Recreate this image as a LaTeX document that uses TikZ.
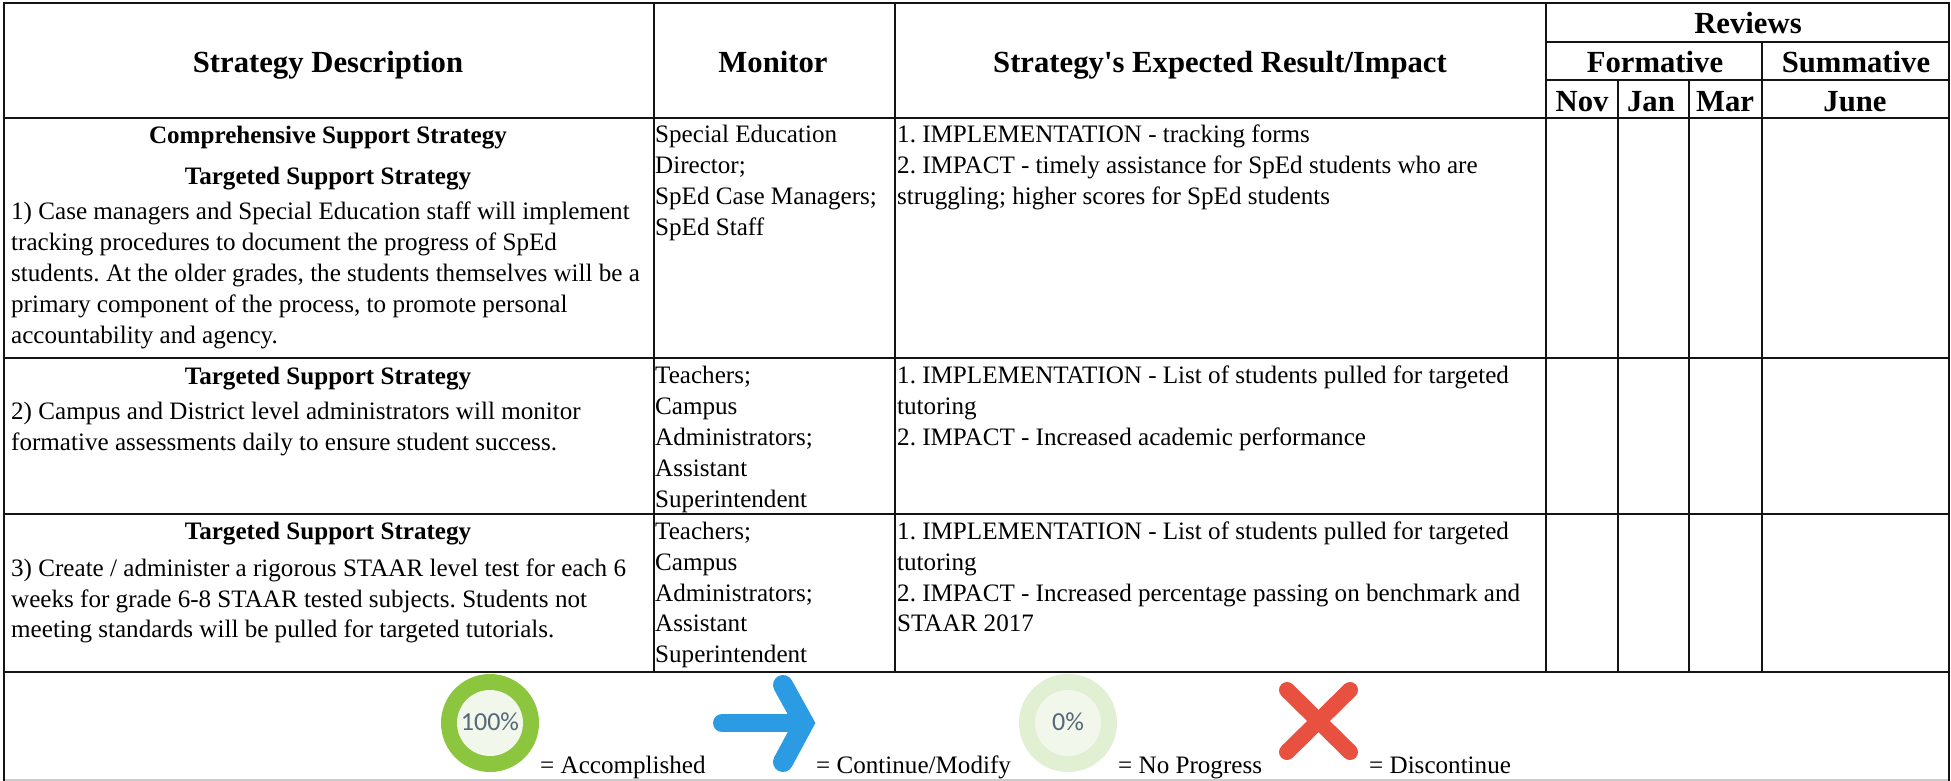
\documentclass[tikz,border=0pt]{standalone}
\usepackage{fontspec}
\setmainfont{Liberation Serif}[Ligatures=TeXOff]
\newfontfamily\iconfont{Carlito}
\tikzset{
 grid/.style={line width=2.6pt,black!92},
 body/.style={inner sep=0pt,font=\frenchspacing\fontsize{25.1}{31}\selectfont,align=left,anchor=north west},
 bodytight/.style={inner sep=0pt,font=\frenchspacing\fontsize{25.1}{30.7}\selectfont,align=left,anchor=north west},
 boldline/.style={inner sep=0pt,font=\bfseries\fontsize{25.1}{31}\selectfont,anchor=base},
 head/.style={inner sep=0pt,font=\bfseries\fontsize{30.7}{36}\selectfont,anchor=base},
 legend/.style={inner sep=0pt,font=\fontsize{25.1}{31}\selectfont,anchor=base west},
 percent/.style={inner sep=0pt,font=\iconfont\fontsize{26}{30}\selectfont,text=percentgray},
}
\definecolor{ringgreen}{HTML}{8CC63F}
\definecolor{palegreen}{HTML}{E1F0D2}
\definecolor{innergreen}{HTML}{F1F7EA}
\definecolor{arrowblue}{HTML}{2B9CE3}
\definecolor{xred}{HTML}{E8503F}
\definecolor{percentgray}{HTML}{56677A}
\begin{document}
\begin{tikzpicture}[x=1pt,y=-1pt]
\useasboundingbox (0,0) rectangle (1951,781);
\fill[white] (0,0) rectangle (1951,781);
% grid
\draw[black!20,line width=1.5pt] (4,780) -- (1949,780);
\draw[grid] (3,3) -- (1950,3);
\draw[grid] (4,118) -- (1949,118);
\draw[grid] (4,358) -- (1949,358);
\draw[grid] (4,514) -- (1949,514);
\draw[grid] (4,672) -- (1949,672);
\draw[grid] (1546,42) -- (1949,42);
\draw[grid] (1546,80) -- (1949,80);
\draw[grid] (4,3) -- (4,781);
\draw[grid] (1949,3) -- (1949,781);
\draw[grid] (654,3) -- (654,672);
\draw[grid] (895,3) -- (895,672);
\draw[grid] (1546,3) -- (1546,672);
\draw[grid] (1618,80) -- (1618,672);
\draw[grid] (1689,80) -- (1689,672);
\draw[grid] (1762,42) -- (1762,672);
% header
\node[head] (h1) at (328,73) {Strategy Description};
\node[head] (h2) at (773,73) {Monitor};
\node[head] (h3) at (1220,73) {Strategy's Expected Result/Impact};
\node[head] (h4) at (1748,33.5) {Reviews};
\node[head] (h5) at (1655,73) {Formative};
\node[head] (h6) at (1856,73) {Summative};
\node[head] (h7) at (1582,111.5) {Nov};
\node[head] (h8) at (1651,111.5) {Jan};
\node[head] (h9) at (1725,111.5) {Mar};
\node[head] (h10) at (1855,111.5) {June};
% strategy column
\node[boldline] (s1a) at (328,143) {Comprehensive Support Strategy};
\node[boldline] (s1b) at (328,184.5) {Targeted Support Strategy};
\node[body] (s1c) at (11,202) {1) Case managers and Special Education staff will implement\\tracking procedures to document the progress of SpEd\\students. At the older grades, the students themselves will be a\\primary component of the process, to promote personal\\accountability and agency.};
\node[boldline] (s2a) at (328,384) {Targeted Support Strategy};
\node[body] (s2b) at (11,402) {2) Campus and District level administrators will monitor\\formative assessments daily to ensure student success.};
\node[boldline] (s3a) at (328,539.5) {Targeted Support Strategy};
\node[bodytight] (s3b) at (11,558.5) {3) Create / administer a rigorous STAAR level test for each 6\\weeks for grade 6-8 STAAR tested subjects. Students not\\meeting standards will be pulled for targeted tutorials.};
% monitor column
\node[body] (m1) at (655,125) {Special Education\\Director;\\SpEd Case Managers;\\SpEd Staff};
\node[body] (m2) at (655,365.5) {Teachers;\\Campus\\Administrators;\\Assistant\\Superintendent};
\node[bodytight] (m3) at (655,522) {Teachers;\\Campus\\Administrators;\\Assistant\\Superintendent};
% result column
\node[body] (r1) at (897,125) {1. IMPLEMENTATION - tracking forms\\2. IMPACT - timely assistance for SpEd students who are\\struggling; higher scores for SpEd students};
\node[body] (r2) at (897,365.5) {1. IMPLEMENTATION - List of students pulled for targeted\\tutoring\\2. IMPACT - Increased academic performance};
\node[bodytight] (r3) at (897,522) {1. IMPLEMENTATION - List of students pulled for targeted\\tutoring\\2. IMPACT - Increased percentage passing on benchmark and\\STAAR 2017};
% legend
\fill[ringgreen] (490,723) circle (49);
\fill[innergreen] (490,723) circle (33);
\node[percent] (p1) at (490,722) {100\%};
\node[legend] (l1) at (540,773) {= Accomplished};
\draw[arrowblue,line width=18pt,line cap=round] (722,723) -- (800,723);
\draw[arrowblue,line width=20pt,line cap=round,line join=round] (783,685) -- (804,723) -- (783,762);
\fill[arrowblue] (804,723) -- (812.75,718.2) -- (815.4,723) -- (812.75,727.8) -- cycle;
\node[legend] (l2) at (816,773) {= Continue/Modify};
\fill[palegreen] (1068,723) circle (49);
\fill[innergreen] (1068,723) circle (33);
\node[percent] (p2) at (1068,722) {0\%};
\node[legend] (l3) at (1118,773) {= No Progress};
\draw[xred,line width=16pt,line cap=round] (1287,690) -- (1350,752);
\draw[xred,line width=16pt,line cap=round] (1350,690) -- (1287,752);
\node[legend] (l4) at (1369,773) {= Discontinue};
\end{tikzpicture}
\end{document}
